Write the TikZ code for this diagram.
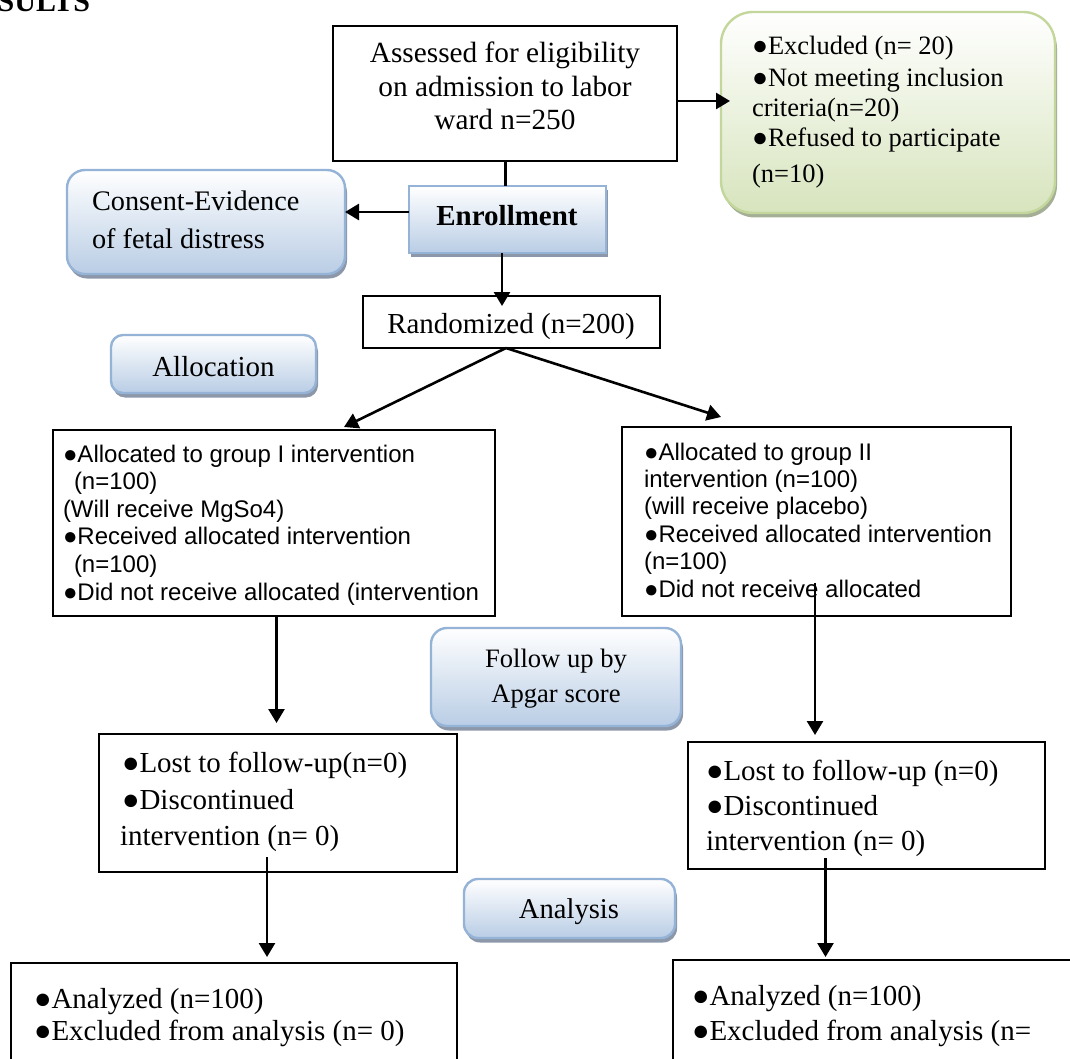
\documentclass[tikz,border=0pt]{standalone}
\usepackage{fontspec}
\setmainfont{Liberation Serif}
\newfontfamily\arialfont{Liberation Sans}
\usetikzlibrary{arrows.meta,shadows}
\definecolor{bluefill}{RGB}{185,205,229}
\definecolor{blueedge}{RGB}{149,179,215}
\definecolor{blueshadow}{RGB}{140,152,170}
\definecolor{greenfill}{RGB}{215,228,189}
\definecolor{greenedge}{RGB}{195,214,155}
\definecolor{greenshadow}{RGB}{165,175,150}
\newcommand\myfs[2]{\fontsize{#1}{#2}\selectfont}
\begin{document}
\begin{tikzpicture}[x=1pt,y=-1pt,
  plainbox/.style={draw=black,line width=2pt,anchor=north west,inner sep=0pt,outer sep=0pt},
  bluebox/.style={draw=blueedge,line width=2.4pt,anchor=north west,inner sep=0pt,outer sep=0pt,
    top color=white,bottom color=bluefill,
    drop shadow={shadow xshift=2pt,shadow yshift=-4.5pt,fill=blueshadow,opacity=1}},
  greenbox/.style={draw=greenedge,line width=2.4pt,anchor=north west,inner sep=0pt,outer sep=0pt,
    top color=white,bottom color=greenfill,rounded corners=32pt,
    drop shadow={shadow xshift=2pt,shadow yshift=-4.5pt,fill=greenshadow,opacity=1}},
  arr/.style={line width=2.6pt,-{Triangle[length=14pt,width=16pt]}},
  link/.style={line width=2.6pt},
  txt/.style={inner sep=0pt,outer sep=0pt,align=left},
  txtc/.style={inner sep=0pt,outer sep=0pt,align=center},
]
\useasboundingbox (0,0) rectangle (1070,1059);

% heading (cut at the top edge)
\node[txt,anchor=base east,font=\bfseries\myfs{30}{34}] (head) at (90,12) {RESULTS};

% boxes
\node[plainbox,minimum width=344pt,minimum height=135pt] (A) at (333,26) {};
\node[greenbox,minimum width=334pt,minimum height=201pt] (Ex) at (721,12) {};
\node[bluebox,minimum width=197pt,minimum height=67pt] (Enr) at (409,186) {};
\node[bluebox,rounded corners=18pt,minimum width=278pt,minimum height=104pt] (Con) at (67,170) {};
\node[plainbox,minimum width=297pt,minimum height=52pt] (Rand) at (363,296) {};
\node[bluebox,rounded corners=12pt,minimum width=205pt,minimum height=58pt] (Alloc) at (111,335) {};
\node[plainbox,minimum width=442pt,minimum height=186pt] (L1) at (53,430) {};
\node[plainbox,minimum width=389pt,minimum height=189pt] (R1) at (622,427) {};
\node[bluebox,rounded corners=16pt,minimum width=250pt,minimum height=98pt] (Fol) at (431,628) {};
\node[plainbox,minimum width=358pt,minimum height=138pt] (L2) at (99,734) {};
\node[plainbox,minimum width=357pt,minimum height=127pt] (R2) at (688,742) {};
\node[bluebox,rounded corners=14pt,minimum width=211pt,minimum height=59pt] (Ana) at (464,879) {};
\node[plainbox,minimum width=446pt,minimum height=130pt] (L3) at (11,963) {};
\node[plainbox,minimum width=420pt,minimum height=130pt] (R3) at (673,960) {};

% texts (base anchor = baseline of the last line)
\node[txtc,anchor=base,font=\myfs{29.3}{33.5}] (tA) at (505,130)
  {Assessed for eligibility\\on admission to labor\\ward n=250};
\node[txt,anchor=base west,font=\myfs{26.5}{30}] (tEx) at (752,183)
  {●Excluded (n= 20)\\[2pt]●Not meeting inclusion\\criteria(n=20)\\●Refused to participate\\[6pt](n=10)};
\node[txtc,anchor=base,font=\bfseries\myfs{29}{34}] (tEnr) at (507,226) {Enrollment};
\node[txt,anchor=base west,font=\myfs{28.3}{38}] (tCon) at (92,248)
  {Consent-Evidence\\of fetal distress};
\node[txtc,anchor=base,font=\myfs{29}{34}] (tRand) at (511,333) {Randomized (n=200)};
\node[txtc,anchor=base,font=\myfs{29}{34}] (tAlloc) at (213.5,376) {Allocation};
\node[txt,anchor=base west,font=\arialfont\myfs{24}{27.6}] (tL1) at (63,600)
  {●Allocated to group I intervention\\\hspace*{11pt}(n=100)\\(Will receive MgSo4)\\●Received allocated intervention\\\hspace*{11pt}(n=100)\\●Did not receive allocated (intervention};
\node[txt,anchor=base west,font=\arialfont\myfs{24}{27.4}] (tR1) at (644,597)
  {●Allocated to group II\\intervention (n=100)\\(will receive placebo)\\●Received allocated intervention\\(n=100)\\●Did not receive allocated};
\node[txtc,anchor=base,font=\myfs{26.6}{35}] (tFol) at (556,702) {Follow up by\\Apgar score};
\node[txt,anchor=base west,font=\myfs{29}{37}] (tL2) at (122,845)
  {●Lost to follow-up(n=0)\\●Discontinued\\[-1pt]\hspace*{-2pt}intervention (n= 0)};
\node[txt,anchor=base west,font=\myfs{29}{35}] (tR2) at (706,850)
  {●Lost to follow-up (n=0)\\●Discontinued\\intervention (n= 0)};
\node[txtc,anchor=base,font=\myfs{28.6}{34}] (tAna) at (569,918) {Analysis};
\node[txt,anchor=base west,font=\myfs{29}{32}] (tL3) at (34,1040)
  {●Analyzed (n=100)\\●Excluded from analysis (n= 0)};
\node[txt,anchor=base west,font=\myfs{29}{35}] (tR3) at (692,1040)
  {●Analyzed (n=100)\\●Excluded from analysis (n=};

% connector end points
\coordinate (exTip) at (730,101);
\coordinate (enrIn) at (505.7,170);
\coordinate (conTip) at (345,212);
\coordinate (randTip) at (502,306);
\coordinate (randOut) at (506,348);
\coordinate (l1Tip) at (344,427);
\coordinate (r1Tip) at (721,417);
\coordinate (l2Tip) at (276.5,723);
\coordinate (r1Out) at (815,583);
\coordinate (r2Tip) at (815,735);
\coordinate (l2Out) at (267,857);
\coordinate (l3Tip) at (267,957);
\coordinate (r2Out) at (825.5,858);
\coordinate (r3Tip) at (825.5,957);

% connectors
\draw[arr] (A.east |- exTip) -- (exTip);
\draw[link] (A.south -| enrIn) -- (Enr.north -| enrIn);
\draw[arr] (Enr.west |- conTip) -- (conTip);
\draw[arr] (Enr.south -| randTip) -- (randTip);
\draw[arr] (Rand.south -| randOut) -- (l1Tip);
\draw[arr] (Rand.south -| randOut) -- (r1Tip);
\draw[arr] (L1.south -| l2Tip) -- (l2Tip);
\draw[arr] (r1Out) -- (r2Tip);
\draw[arr] (l2Out) -- (l3Tip);
\draw[arr] (r2Out) -- (r3Tip);
\end{tikzpicture}
\end{document}
